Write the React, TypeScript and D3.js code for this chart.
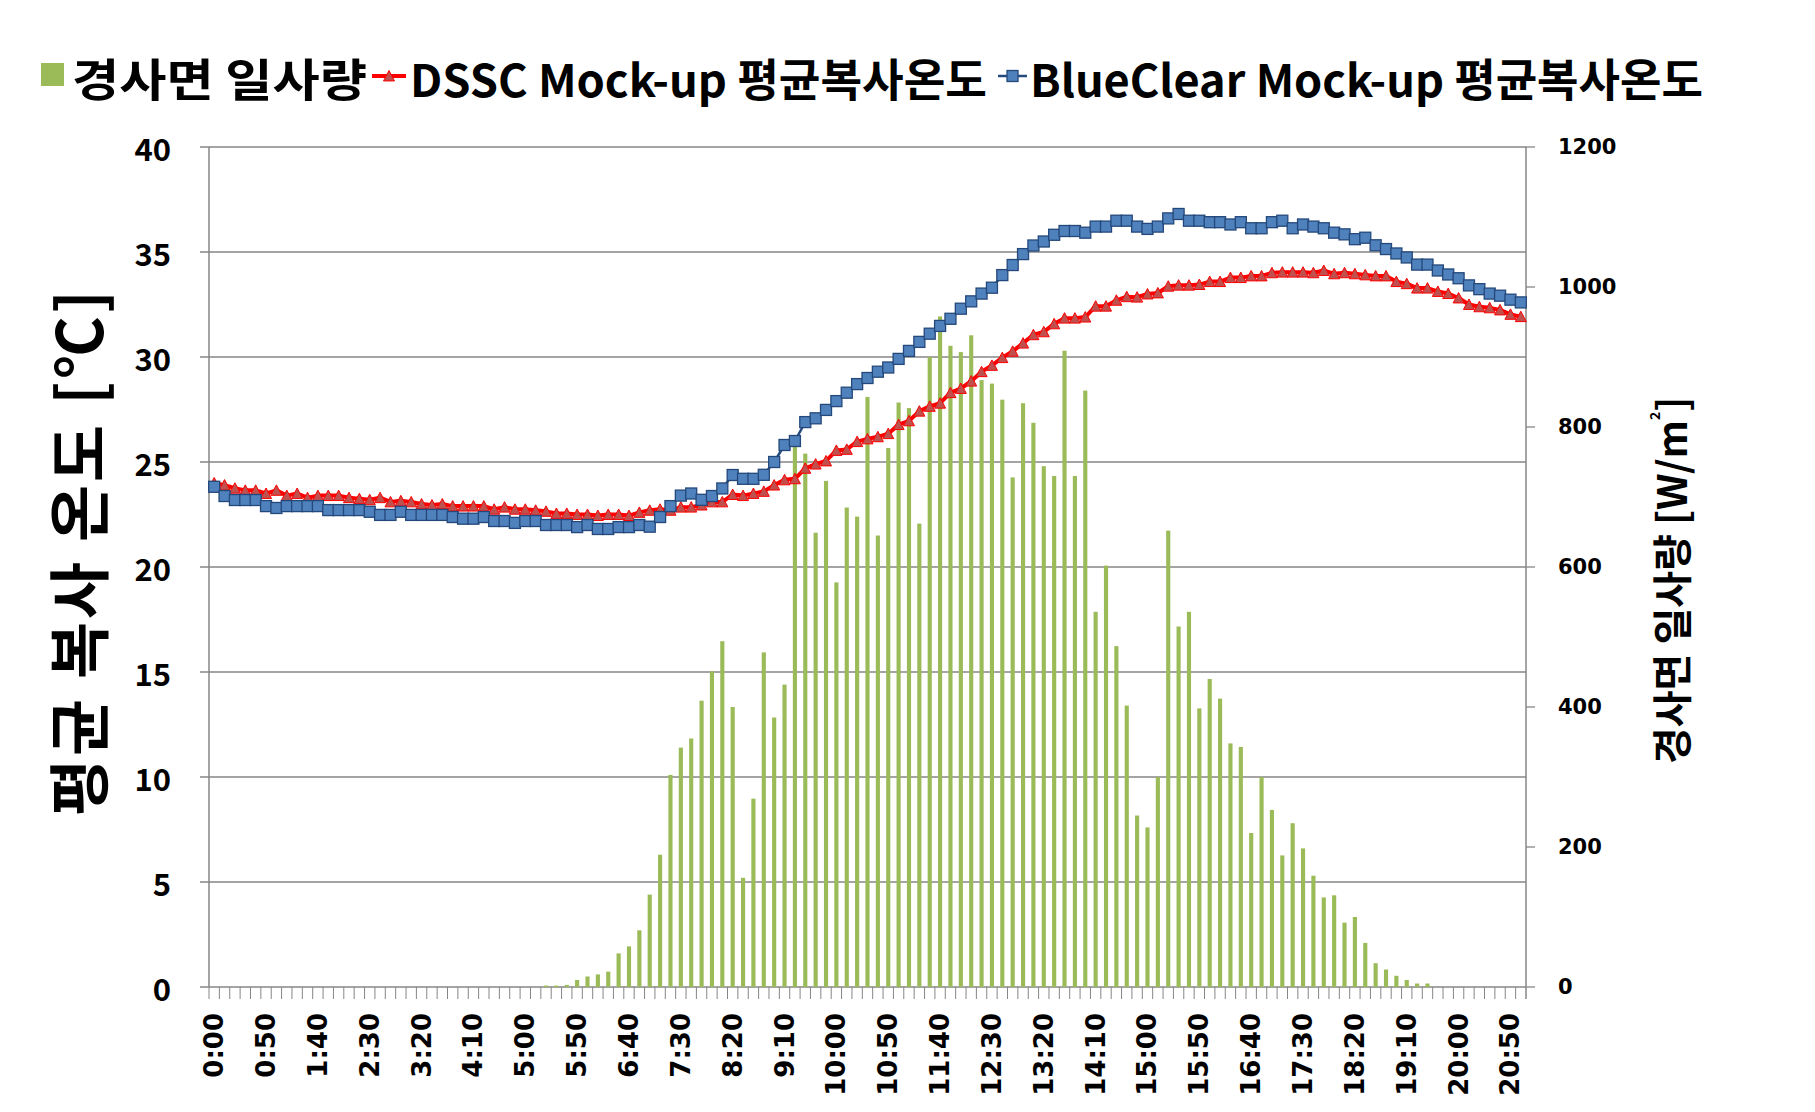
import React from "react";
import * as d3 from "d3";

const times: string[] = Array.from({ length: 127 }, (_, i) => `${Math.floor(i / 6)}:${String((i % 6) * 10).padStart(2, "0")}`);

const irradiance: number[] = [
  0,0,0,0,0,0,0,0,0,0, 0,0,0,0,0,0,0,0,0,0, 0,0,0,0,0,0,0,0,0,0, 0,0,
  2,2,3,10,15,18,22,48,58,81,
  132,189,303,342,355,409,451,494,400,156,
  269,478,385,432,772,762,649,723,578,685,
  672,843,645,770,835,827,662,900,958,916,
  907,931,867,862,839,728,834,806,744,730,
  909,730,852,536,602,487,402,245,228,300,
  652,515,536,398,440,412,348,343,220,300,
  253,188,234,198,159,128,131,92,100,63,
  34,25,16,10,5,5,
  0,0,0,0,0,0,0,0,0,
];

const dssc: number[] = [
  24.0,23.9,23.75,23.65,23.65,23.5,23.65,23.4,23.5,23.3,
  23.4,23.4,23.4,23.3,23.25,23.2,23.3,23.1,23.15,23.1,
  23.0,22.95,23.0,22.9,22.9,22.9,22.9,22.75,22.85,22.75,
  22.75,22.7,22.65,22.55,22.55,22.5,22.5,22.45,22.5,22.5,
  22.45,22.6,22.7,22.75,22.7,22.85,22.85,22.95,23.1,23.1,
  23.45,23.4,23.5,23.6,23.9,24.15,24.2,24.7,24.9,25.05,
  25.55,25.6,25.97,26.1,26.2,26.35,26.78,26.96,27.42,27.65,
  27.8,28.3,28.5,28.85,29.3,29.6,29.97,30.27,30.66,31.06,
  31.2,31.58,31.85,31.85,31.9,32.42,32.42,32.7,32.87,32.85,
  33.0,33.05,33.37,33.42,33.42,33.45,33.59,33.59,33.78,33.78,
  33.86,33.86,34.01,34.04,34.04,34.04,34.01,34.12,33.96,34.01,
  33.96,33.91,33.86,33.86,33.59,33.49,33.28,33.28,33.12,33.02,
  32.81,32.5,32.39,32.34,32.24,32.03,31.92,
];

const blueClear: number[] = [
  23.82,23.38,23.19,23.19,23.19,22.9,22.81,22.9,22.9,22.9,
  22.9,22.71,22.71,22.71,22.71,22.63,22.48,22.48,22.63,22.48,
  22.48,22.48,22.48,22.38,22.3,22.3,22.38,22.19,22.19,22.1,
  22.19,22.19,22.0,22.0,22.0,21.9,22.0,21.81,21.81,21.9,
  21.9,22.0,21.92,22.38,22.9,23.4,23.5,23.2,23.38,23.74,
  24.38,24.2,24.2,24.39,25.0,25.81,26.0,26.9,27.08,27.48,
  27.9,28.3,28.71,29.0,29.3,29.5,29.91,30.29,30.72,31.11,
  31.48,31.82,32.3,32.65,33.02,33.3,33.9,34.38,34.9,35.31,
  35.5,35.82,36.0,36.0,35.92,36.21,36.21,36.49,36.49,36.21,
  36.1,36.21,36.6,36.81,36.49,36.49,36.42,36.42,36.31,36.42,
  36.13,36.13,36.42,36.49,36.13,36.31,36.21,36.13,35.92,35.84,
  35.61,35.68,35.32,35.14,34.93,34.74,34.4,34.4,34.12,33.93,
  33.75,33.41,33.23,33.02,32.92,32.73,32.6,
];

const leftTicks: number[] = [0, 5, 10, 15, 20, 25, 30, 35, 40];
const rightTicks: number[] = [0, 200, 400, 600, 800, 1000, 1200];

const seriesNames = ["경사면 일사량", "DSSC Mock-up 평균복사온도", "BlueClear Mock-up 평균복사온도"];
const leftTitle = "평균 복사 온도 [℃]";
const rightTitleMain = "경사면 일사량 [W/m";
const rightTitleSup = "2";
const rightTitleEnd = "]";

const W = 1815, H = 1112;
const L = 209, R = 1526, T = 147, B = 987;
const GRID = "#868686";
const KR = "'Noto Sans CJK KR', 'Noto Sans', sans-serif";
const VD = "'DejaVu Sans', Verdana, sans-serif";

export default function App() {
  const x = d3.scaleBand<string>().domain(times).range([L, R]).paddingInner(0).paddingOuter(0);
  const bw = x.bandwidth();
  const cx = (i: number) => (x(times[i]) as number) + bw / 2;
  const yL = d3.scaleLinear().domain([0, 40]).range([B, T]);
  const yR = d3.scaleLinear().domain([0, 1200]).range([B, T]);
  const barW = bw * 0.4;

  const lineL = d3.line<number>().x((_, i) => cx(i)).y((d) => yL(d));

  const tri = (px: number, py: number, s = 5.5) =>
    `M${px},${py - s}L${px + s},${py + s * 0.9}L${px - s},${py + s * 0.9}Z`;

  const legText = (key: string, txt: string, x0: number, len: number) => (
    <text key={key} x={x0} y={77} dominantBaseline="central" fontFamily={KR} fontWeight={700} fontSize={45}
      fill="#000" textLength={len} lengthAdjust="spacingAndGlyphs">{txt}</text>
  );

  return (
    <div style={{ position: "absolute", left: 0, top: 0 }}>
      <svg width={W} height={H} style={{ display: "block", background: "#fff" }}>
        {/* gridlines */}
        {leftTicks.map((t) => (
          <line key={"g" + t} x1={L - 9} x2={R} y1={yL(t)} y2={yL(t)} stroke={GRID} strokeWidth={1.3} />
        ))}
        {/* left axis */}
        <line x1={L} x2={L} y1={T} y2={B} stroke={GRID} strokeWidth={1.5} />
        {/* right axis */}
        <line x1={R} x2={R} y1={T} y2={B + 12} stroke={GRID} strokeWidth={1.5} />
        {rightTicks.map((t) => (
          <line key={"rt" + t} x1={R} x2={R + 9} y1={yR(t)} y2={yR(t)} stroke={GRID} strokeWidth={1.3} />
        ))}
        {/* bottom ticks */}
        {times.map((t, i) => (
          <line key={"bt" + i} x1={x(t) as number} x2={x(t) as number} y1={B} y2={B + 12} stroke={GRID} strokeWidth={1} />
        ))}
        {/* bars */}
        {irradiance.map((v, i) =>
          v > 0 ? (
            <rect key={"b" + i} x={cx(i) - barW / 2} width={barW} y={yR(v)} height={B - yR(v)} fill="#9BBB59" />
          ) : null
        )}
        {/* DSSC line */}
        <path d={lineL(dssc) || ""} fill="none" stroke="#FF0000" strokeWidth={4} strokeLinejoin="round" />
        {dssc.map((v, i) => (
          <path key={"t" + i} d={tri(cx(i), yL(v))} fill="#C0504D" stroke="#FF0000" strokeWidth={1} />
        ))}
        {/* BlueClear line */}
        <path d={lineL(blueClear) || ""} fill="none" stroke="#254B7E" strokeWidth={2.5} strokeLinejoin="round" />
        {blueClear.map((v, i) => (
          <rect key={"s" + i} x={cx(i) - 5.5} y={yL(v) - 5.5} width={11} height={11} fill="#4F81BD" stroke="#24487A" strokeWidth={1.3} />
        ))}
        {/* left tick labels */}
        {leftTicks.map((t) => (
          <text key={"ll" + t} x={171} y={yL(t)} textAnchor="end" dominantBaseline="central"
            fontFamily={KR} fontWeight={700} fontSize={31} fill="#000">{t}</text>
        ))}
        {/* right tick labels */}
        {rightTicks.map((t) => (
          <text key={"rl" + t} x={1558} y={yR(t)} textAnchor="start" dominantBaseline="central"
            fontFamily={VD} fontWeight={700} fontSize={21} fill="#000">{t}</text>
        ))}
        {/* x labels */}
        {times.map((t, i) =>
          i % 5 === 0 ? (
            <text key={"xl" + i} transform={`translate(${cx(i)},${1013}) rotate(-90)`} textAnchor="end"
              dominantBaseline="central" fontFamily={VD} fontWeight={700} fontSize={26} fill="#000">{t}</text>
          ) : null
        )}
        {/* axis titles */}
        <text transform="translate(76,816) rotate(-90)" textAnchor="start" dominantBaseline="central"
          fontFamily={KR} fontWeight={700} fontSize={62} fill="#000" textLength={526} lengthAdjust="spacing">{leftTitle}</text>
        <text transform="translate(1670,764) rotate(-90)" textAnchor="start" dominantBaseline="central"
          fontFamily={KR} fontWeight={700} fontSize={40} fill="#000">
          {rightTitleMain}
          <tspan fontSize={14} dy={-16}>{rightTitleSup}</tspan>
          <tspan dy={16}>{rightTitleEnd}</tspan>
        </text>
        {/* legend */}
        <rect x={41} y={63} width={23} height={23} fill="#9BBB59" />
        {legText("k0", seriesNames[0], 72, 295)}
        <line x1={372} x2={406} y1={76} y2={76} stroke="#FF0000" strokeWidth={4} />
        <path d={tri(389, 76)} fill="#C0504D" stroke="#FF0000" strokeWidth={1} />
        {legText("l1", seriesNames[1], 410, 577)}
        <line x1={998} x2={1027} y1={76} y2={76} stroke="#254B7E" strokeWidth={2.5} />
        <rect x={1007} y={70.5} width={11} height={11} fill="#4F81BD" stroke="#24487A" strokeWidth={1.3} />
        {legText("l2", seriesNames[2], 1030, 673)}
      </svg>
    </div>
  );
}
